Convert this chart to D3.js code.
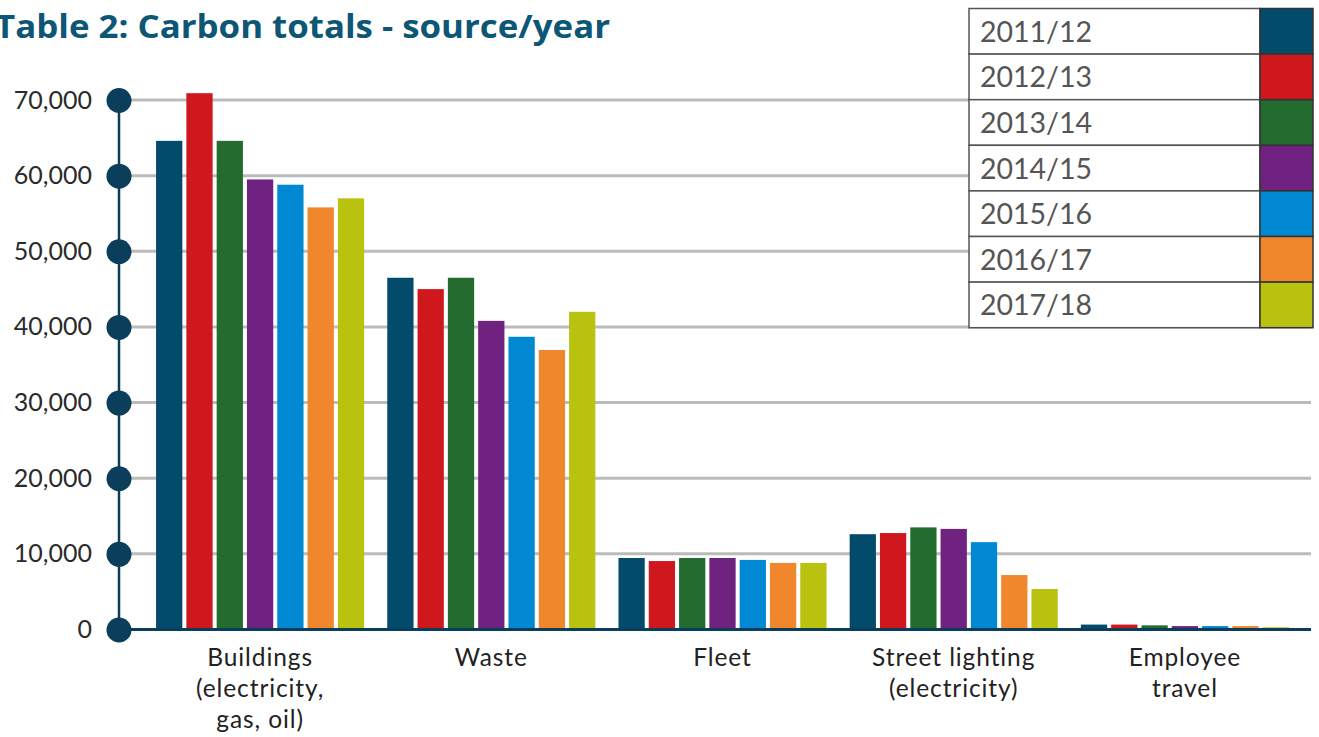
<!DOCTYPE html>
<html>
<head>
<meta charset="utf-8">
<script src="https://cdn.jsdelivr.net/npm/d3@7"></script>
<style>
  html, body { margin: 0; padding: 0; background: #fff; overflow: hidden; }
  svg { display: block; }
</style>
</head>
<body>
<svg id="chart" width="1319" height="737"></svg>
<script>
// Carbon totals by source, one bar per financial year
const categories = [
  ["Buildings", "(electricity,", "gas, oil)"],
  ["Waste"],
  ["Fleet"],
  ["Street lighting", "(electricity)"],
  ["Employee", "travel"]
];
const years = ["2011/12", "2012/13", "2013/14", "2014/15", "2015/16", "2016/17", "2017/18"];
const colors = ["#024b6a", "#cf181e", "#246b30", "#6f2280", "#0089d2", "#f1872d", "#b8c20f"];

const buildings      = [64600, 70900, 64600, 59500, 58800, 55800, 57000];
const waste          = [46500, 45000, 46500, 40800, 38700, 36950, 42000];
const fleet          = [9450, 9050, 9450, 9450, 9200, 8800, 8800];
const streetLighting = [12600, 12750, 13500, 13300, 11550, 7200, 5350];
const employeeTravel = [650, 650, 550, 450, 450, 450, 300];

const yTicks = [0, 10000, 20000, 30000, 40000, 50000, 60000, 70000];
const title = "Table 2: Carbon totals - source/year";

const seriesByCategory = [buildings, waste, fleet, streetLighting, employeeTravel];
const rows = categories.map((c, i) => ({ key: c.join(" "), lines: c, values: seriesByCategory[i] }));

const svg = d3.select("#chart");
const fontFamily = "Lato, 'Noto Sans', sans-serif";
const wideFamily = "'Open Sans', Lato, sans-serif";
const axisColor = "#0a3e5a";

const y = d3.scaleLinear().domain([0, 70000]).range([629.5, 100]);
const x0 = d3.scaleBand().domain(rows.map(r => r.key)).range([144.5, 1300.5])
  .paddingInner(0.1).paddingOuter(0.05);
const x1 = d3.scaleBand().domain(years).range([0, x0.bandwidth()])
  .paddingInner(0.133).paddingOuter(0);
const color = d3.scaleOrdinal().domain(years).range(colors);

const axisX = 119;
const rightEdge = 1311;

// horizontal gridlines
svg.append("g")
  .selectAll("line")
  .data(yTicks.filter(t => t > 0))
  .join("line")
  .attr("x1", axisX).attr("x2", rightEdge)
  .attr("y1", d => y(d)).attr("y2", d => y(d))
  .attr("stroke", "#bbbbbb").attr("stroke-width", 3);

// bars
const groups = svg.append("g")
  .selectAll("g")
  .data(rows)
  .join("g")
  .attr("transform", d => `translate(${x0(d.key)},0)`);

groups.selectAll("rect")
  .data(d => d.values.map((v, i) => ({ year: years[i], value: v })))
  .join("rect")
  .attr("x", d => x1(d.year))
  .attr("width", x1.bandwidth())
  .attr("y", d => y(d.value))
  .attr("height", d => y(0) - y(d.value))
  .attr("fill", d => color(d.year));

// baseline
svg.append("line")
  .attr("x1", axisX).attr("x2", rightEdge)
  .attr("y1", y(0)).attr("y2", y(0))
  .attr("stroke", axisColor).attr("stroke-width", 3);

// vertical axis with round tick markers
const yAxis = d3.axisLeft(y).tickValues(yTicks).tickFormat(d3.format(",")).tickSize(0).tickPadding(27);
const yAxisG = svg.append("g").attr("transform", `translate(${axisX},0)`).call(yAxis);
yAxisG.select(".domain").attr("stroke", axisColor).attr("stroke-width", 2.5)
  .attr("d", `M0,${y(70000)}V${y(0)}`);
yAxisG.selectAll(".tick text")
  .attr("font-family", fontFamily).attr("font-size", 25).attr("fill", "#2a2a2a");
yAxisG.selectAll(".tick").append("circle")
  .attr("r", 12.5).attr("fill", axisColor);

// category labels
const xAxisG = svg.append("g");
rows.forEach(r => {
  const cx = x0(r.key) + x0.bandwidth() / 2;
  const t = xAxisG.append("text")
    .attr("x", cx)
    .attr("y", 666)
    .attr("text-anchor", "middle")
    .attr("font-family", fontFamily).attr("font-size", 24.5)
    .attr("letter-spacing", 0.9).attr("fill", "#222");
  r.lines.forEach((ln, i) => {
    t.append("tspan").attr("x", cx).attr("dy", i === 0 ? 0 : 31).text(ln);
  });
});

// title
svg.append("text")
  .attr("x", -5).attr("y", 38)
  .attr("font-family", wideFamily).attr("font-weight", 700).attr("font-size", 33)
  .attr("fill", "#0d5675")
  .attr("textLength", 615).attr("lengthAdjust", "spacingAndGlyphs")
  .text(title);

// legend table
const legX = 969, legY = 8.5, legW = 291, swW = 53, rowH = 45.6;
const legend = svg.append("g");
const legRows = legend.selectAll("g")
  .data(years)
  .join("g")
  .attr("transform", (d, i) => `translate(${legX},${legY + i * rowH})`);
legRows.append("rect")
  .attr("width", legW).attr("height", rowH)
  .attr("fill", "#fff").attr("stroke", "#555").attr("stroke-width", 1.5);
legRows.append("rect")
  .attr("x", legW).attr("width", swW).attr("height", rowH)
  .attr("fill", d => color(d)).attr("stroke", "#333").attr("stroke-width", 1.5);
legRows.append("text")
  .attr("x", 11).attr("y", rowH / 2 + 10.5)
  .attr("font-family", fontFamily).attr("font-size", 28.5).attr("fill", "#555")
  .text(d => d);
</script>
</body>
</html>
